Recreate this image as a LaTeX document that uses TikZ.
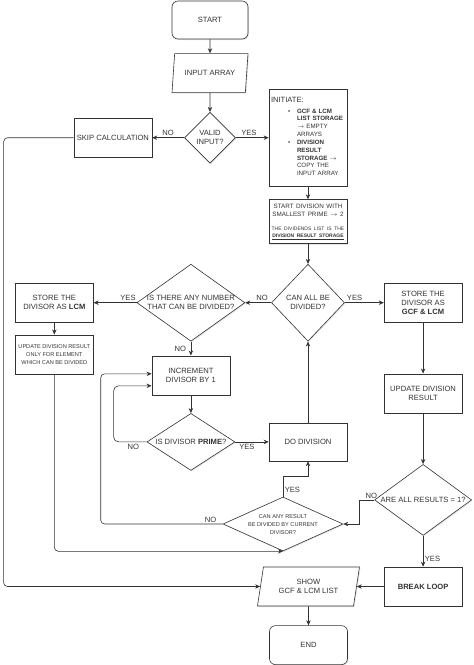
\documentclass[tikz,border=0pt]{standalone}
\usepackage{fontspec}
\setmainfont{Liberation Sans}
\usetikzlibrary{shapes.geometric,positioning,arrows.meta,calc,shadows}
\newcommand{\dtext}[1]{\raisebox{-0.35em}[0pt][0pt]{\makebox[0pt]{\begin{tabular}{@{}c@{}}#1\end{tabular}}}}
\newcommand{\bul}[1]{\hspace*{17pt}\makebox[9pt][l]{\textbullet}\begin{tabular}[t]{@{}l@{}}#1\end{tabular}}
\tikzset{
	>={Stealth[length=5pt,width=4.4pt]}, % small filled arrow heads
	every node/.style={text=black!80},
	shadowed/.style={draw=black!80, line width=0.6pt, fill=white, drop shadow={shadow xshift=1pt, shadow yshift=-1pt, opacity=0.2}},
	boxfont/.style={font=\fontsize{7.6}{9}\selectfont},
	small/.style={font=\fontsize{5.6}{8}\selectfont},
	procbox/.style={shadowed, boxfont, rectangle, align=center, inner sep=1pt, minimum width=78pt, minimum height=39pt},
	endbox/.style={procbox, rounded corners=6pt},
	iobox/.style={shadowed, boxfont, trapezium, align=center, inner sep=1pt, trapezium left angle=70, trapezium right angle=110, trapezium stretches body, minimum height=39pt},
	decision/.style={shadowed, boxfont, diamond, inner sep=0pt}, % size is set by hand, text does not count
	line/.style={draw=black!80, line width=0.6pt, ->},
	lbl/.style={boxfont, inner sep=1.5pt},
}
\begin{document}
\begin{tikzpicture}[x=1pt, y=-1pt]
	\useasboundingbox (0,0) rectangle (474,665);
	\node[endbox, minimum width=76pt, minimum height=38pt] (start) at (210,20) {START};
	\node[iobox, minimum width=76pt, below=14pt of start] (input) {INPUT ARRAY};
	\node[decision, minimum width=51pt, minimum height=51pt, below=19pt of input] (valid) {\dtext{VALID\\INPUT?}};
	\node[procbox, left=32pt of valid] (skip) {SKIP CALCULATION};
	\node[procbox, text width=74pt, align=left, inner sep=2pt, minimum height=97pt, font=\fontsize{6.2}{7.7}\selectfont] (init) at (308,137.5)
		{{\fontsize{7.6}{9}\selectfont INITIATE:\par}\vspace{3pt}
		\bul{\textbf{GCF \& LCM}\\\textbf{LIST STORAGE}\\$\rightarrow$ EMPTY\\ARRAYS}\par
		\bul{\textbf{DIVISION}\\\textbf{RESULT}\\\textbf{STORAGE} $\rightarrow$\\COPY THE\\INPUT ARRAY}\par};
	\node[procbox, text width=76pt, minimum height=44pt, below=13pt of init] (startdiv)
		{{\fontsize{6.3}{8.5}\selectfont START DIVISION WITH\\SMALLEST PRIME $\rightarrow$ 2\par}\vspace{6pt}
		{\fontsize{5}{7.5}\selectfont THE DIVIDENDS LIST IS THE\\\underline{\textbf{DIVISION RESULT STORAGE}}\par}};
	\node[decision, minimum width=73pt, minimum height=77pt, below=20pt of startdiv] (canall) {\dtext{CAN ALL BE\\DIVIDED?}};
	\node[decision, minimum width=108pt, minimum height=77pt, left=26pt of canall] (anynum) {\dtext{IS THERE ANY NUMBER\\THAT CAN BE DIVIDED?}};
	\node[procbox, right=39pt of canall] (gcf) {STORE THE\\DIVISOR AS\\\textbf{GCF \& LCM}};
	\node[procbox, left=43pt of anynum] (lcm) {STORE THE\\DIVISOR AS \textbf{LCM}};
	\node[procbox, small, below=12pt of lcm] (updpart) {UPDATE DIVISION RESULT\\ONLY FOR ELEMENT\\WHICH CAN BE DIVIDED};
	\node[procbox, below=14pt of anynum] (incr) {INCREMENT\\DIVISOR BY 1};
	\node[decision, minimum width=88pt, minimum height=57pt, below=18pt of incr] (prime) {\dtext{IS DIVISOR \textbf{PRIME}?}};
	\node[procbox, minimum height=38pt] (dodiv) at (canall |- prime) {DO DIVISION};
	\node[procbox, below=51pt of gcf] (updres) {UPDATE DIVISION\\RESULT};
	\node[decision, minimum width=97pt, minimum height=71pt, below=51pt of updres] (allone) {\dtext{ARE ALL RESULTS = 1?}};
	\node[procbox, below=31pt of allone] (brk) {\textbf{BREAK LOOP}};
	\node[iobox, minimum width=102pt, left=27pt of brk] (show) {SHOW\\GCF \& LCM LIST};
	\node[endbox, below=19pt of show] (endn) {END};
	\node[decision, small, minimum width=120pt, minimum height=54pt] (anyres) at (283,524) {\dtext{CAN ANY RESULT\\BE DIVIDED BY CURRENT\\DIVISOR?}};

	\draw[line] (start) -- (input);
	\draw[line] (input) -- (valid);
	\draw[line] (valid) -- node[lbl, above]{NO} (skip);
	\draw[line] (valid.east) -- node[lbl, above, pos=0.4]{YES} (valid.east -| init.west);
	\draw[line] (init) -- (startdiv);
	\draw[line] (startdiv) -- (canall);
	\draw[line] (canall) -- node[lbl, above, pos=0.35]{NO} (anynum);
	\draw[line] (canall) -- node[lbl, above, pos=0.25]{YES} (gcf);
	\draw[line] (anynum) -- node[lbl, above, pos=0.2]{YES} (lcm);
	\draw[line] (anynum) -- node[lbl, left, xshift=-3pt]{NO} (incr);
	\draw[line] (lcm) -- (updpart);
	\draw[line] (incr) -- (prime);
	\draw[line] (prime) -- node[lbl, below, pos=0.35]{YES} (dodiv);
	\draw[line, rounded corners=5pt] (prime.west) -- node[lbl, below, pos=0.4]{NO} ++(-33,0) |- ($(incr.west)+(0,10.5)$);
	\draw[line] (dodiv) -- (canall);
	\draw[line] (gcf) -- (updres);
	\draw[line] (updres) -- (allone);
	\draw[line] (allone) -- node[lbl, right, pos=0.75]{YES} (brk);
	\draw[line] (allone.west) -- node[lbl, above, pos=0.2]{NO} ++(-15,0) |- (anyres.east);
	\draw[line] (anyres.north) -- node[lbl, right, pos=0.35]{YES} ++(0,-20) -| (dodiv.south);
	\draw[line, rounded corners=4pt] (anyres.west) -- node[lbl, above, pos=0.1]{NO} ++(-122,0) |- ($(incr.west)+(0,-1.5)$);
	\draw[line, rounded corners=4pt] (updpart.south) |- (anyres.south);
	\draw[line, rounded corners=4pt] (skip.west) -- ++(-70,0) |- (show.west);
	\draw[line] (brk) -- (show);
	\draw[line] (show) -- (endn);
\end{tikzpicture}
\end{document}
